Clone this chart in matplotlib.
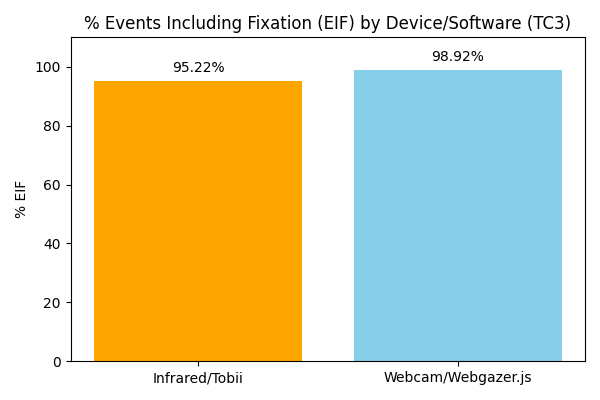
import matplotlib
matplotlib.use("Agg")
import matplotlib.pyplot as plt

categories = ["Infrared/Tobii", "Webcam/Webgazer.js"]
values = [95.22, 98.92]
colors = ["orange", "skyblue"]

fig, ax = plt.subplots(figsize=(6, 4), dpi=100)
bars = ax.bar(categories, values, color=colors)
for b, v in zip(bars, values):
    ax.text(b.get_x() + b.get_width() / 2, v + 2, f"{v:.2f}%", ha="center", va="bottom")
ax.set_ylim(0, 110)
ax.set_ylabel("% EIF")
ax.set_title("% Events Including Fixation (EIF) by Device/Software (TC3)")
fig.tight_layout()
fig.savefig("out.png")
